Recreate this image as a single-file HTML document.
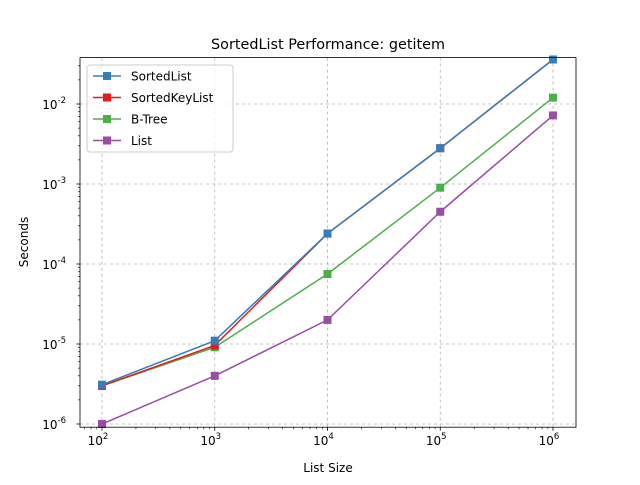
<!DOCTYPE html>
<html><head><meta charset="utf-8"><style>body{margin:0;background:#fff}svg{font-family:"DejaVu Sans","Liberation Sans",sans-serif}</style></head>
<body>
<svg id="c" width="640" height="480" xmlns="http://www.w3.org/2000/svg"></svg>
<script>
const sizes=[100,1000,10000,100000,1000000];
const seriesNames=["SortedList","SortedKeyList","B-Tree","List"];
const sortedList=[3.1e-6,1.1e-5,2.4e-4,2.8e-3,3.6e-2];
const sortedKeyList=[3.0e-6,9.6e-6,2.4e-4,2.8e-3,3.6e-2];
const bTree=[3.0e-6,9.1e-6,7.5e-5,9.0e-4,1.2e-2];
const listVals=[1.0e-6,4.0e-6,2.0e-5,4.5e-4,7.2e-3];
const xTicks=[2,3,4,5,6];
const yTicks=[-6,-5,-4,-3,-2];
const colors=["#377eb8","#e41a1c","#4daf4a","#984ea3"];
const NS="http://www.w3.org/2000/svg";
const svg=document.getElementById('c');
const L=80,R=576,T=57.6,B=427.2;
function X(v){return 102+(Math.log10(v)-2)*112.75;}
function Y(v){return 104-(Math.log10(v)+2)*80;}
function el(t,a,p){const e=document.createElementNS(NS,t);for(const k in a)e.setAttribute(k,a[k]);(p||svg).appendChild(e);return e;}
// grid
yTicks.forEach(t=>{const y=Y(Math.pow(10,t));const g=el('line',{x1:L,x2:R,y1:y,y2:y,stroke:'#b0b0b0','stroke-width':0.8,'stroke-dasharray':'3,3'});});
xTicks.forEach(t=>{const x=X(Math.pow(10,t));const g=el('line',{x1:x,x2:x,y1:T,y2:B,stroke:'#b0b0b0','stroke-width':0.8,'stroke-dasharray':'3,3'});});
// minor ticks
for(let d=1;d<=7;d++){for(let m=2;m<=9;m++){const v=m*Math.pow(10,d);const x=X(v);if(x>L&&x<R){const l=el('line',{x1:x,x2:x,y1:B,y2:B+2,stroke:'#000','stroke-width':0.6});}}}
for(let d=-7;d<=-1;d++){for(let m=2;m<=9;m++){const v=m*Math.pow(10,d);const y=Y(v);if(y>T&&y<B){const l=el('line',{x1:L-2,x2:L,y1:y,y2:y,stroke:'#000','stroke-width':0.6});}}}
// series
const all=[sortedList,sortedKeyList,bTree,listVals];
[3,2,1,0].forEach(i=>{const d=all[i];const g=el('g',{});
const pts=d.map((v,j)=>X(sizes[j])+','+Y(v)).join(' ');
el('polyline',{points:pts,fill:'none',stroke:colors[i],'stroke-width':1.5},g);
d.forEach((v,j)=>{const r=el('rect',{x:X(sizes[j])-4,y:Y(v)-4,width:8,height:8,fill:colors[i]},g);});});
// axes frame
const f=el('rect',{x:L,y:T,width:R-L,height:B-T,fill:'none',stroke:'#000','stroke-width':0.8});
xTicks.forEach(t=>{const x=X(Math.pow(10,t));el('line',{x1:x,x2:x,y1:B,y2:B+3.5,stroke:'#000','stroke-width':0.8});const tx=el('text',{x:x-4,y:B+18,'font-size':12,'text-anchor':'middle'});tx.innerHTML='10<tspan dy="-6" font-size="8.5">'+t+'</tspan>';});
yTicks.forEach(t=>{const y=Y(Math.pow(10,t));el('line',{x1:L-3.5,x2:L,y1:y,y2:y,stroke:'#000','stroke-width':0.8});const tx=el('text',{x:L-20,y:y+5,'font-size':12,'text-anchor':'end'});tx.innerHTML='10<tspan dy="-6" font-size="8.5">'+t+'</tspan>';tx.setAttribute('x',L-6-8);});
let t=el('text',{x:328,y:49,'font-size':14.4,'text-anchor':'middle'});t.textContent='SortedList Performance: getitem';
t=el('text',{x:328,y:472,'font-size':12,'text-anchor':'middle'});t.textContent='List Size';
t=el('text',{x:28,y:242,'font-size':12,'text-anchor':'middle',transform:'rotate(-90 28 242)'});t.textContent='Seconds';
// legend
const lg=el('g',{});
el('rect',{x:87,y:65,width:146,height:87,rx:3,fill:'#fff','fill-opacity':0.8,stroke:'#ccc'},lg);
seriesNames.forEach((n,i)=>{const y=76+i*21.5;const e=el('g',{},lg);
el('line',{x1:93,x2:121,y1:y,y2:y,stroke:colors[i],'stroke-width':1.5},e);el('rect',{x:103,y:y-4,width:8,height:8,fill:colors[i]},e);
const tx=el('text',{x:131,y:y+4.5,'font-size':12},e);tx.textContent=n;});
</script>
</body></html>
